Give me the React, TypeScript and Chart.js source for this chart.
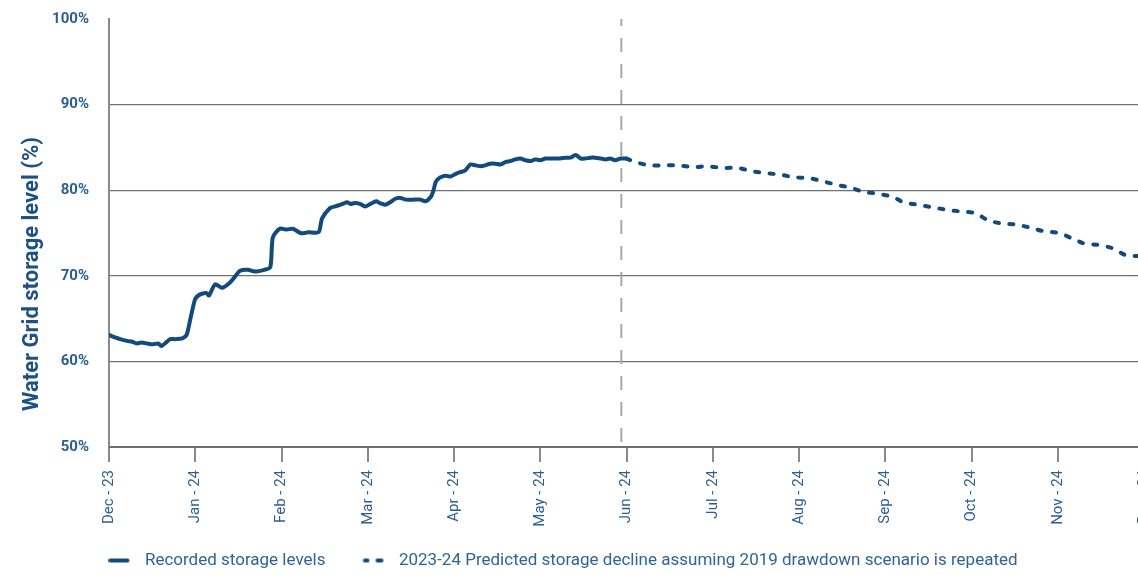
import React, { useEffect, useRef } from "react";
import { Chart, registerables } from "chart.js";

Chart.register(...registerables);

// ---------- data ----------
const monthLabels = [
  "Dec - 23", "Jan - 24", "Feb - 24", "Mar - 24", "Apr - 24", "May - 24",
  "Jun - 24", "Jul - 24", "Aug - 24", "Sep - 24", "Oct - 24", "Nov - 24", "Dec - 24",
];

const yTitle = "Water Grid storage level (%)";
const recordedLabel = "Recorded storage levels";
const predictedLabel = "2023-24 Predicted storage decline assuming 2019 drawdown scenario is repeated";

// months since 1 Dec 2023
const recordedMonth = [
  0.00, 0.07, 0.13, 0.21, 0.27, 0.32, 0.38, 0.44, 0.51, 0.57, 0.61, 0.66, 0.71, 0.77, 0.85, 0.90,
  0.94, 0.98, 1.00, 1.05, 1.13, 1.16, 1.23, 1.31, 1.40, 1.46, 1.52, 1.61, 1.69, 1.80, 1.87, 1.90,
  1.98, 2.06, 2.13, 2.22, 2.27, 2.31, 2.43, 2.47, 2.56, 2.62, 2.71, 2.76, 2.80, 2.85, 2.91, 2.97,
  3.03, 3.10, 3.14, 3.20, 3.26, 3.32, 3.38, 3.44, 3.55, 3.61, 3.67, 3.73, 3.76, 3.79, 3.84, 3.90,
  3.96, 4.02, 4.07, 4.13, 4.19, 4.25, 4.31, 4.36, 4.42, 4.48, 4.54, 4.60, 4.65, 4.71, 4.77, 4.83,
  4.89, 4.94, 5.00, 5.06, 5.12, 5.23, 5.29, 5.35, 5.41, 5.47, 5.52, 5.58, 5.64, 5.70, 5.76, 5.81,
  5.87, 5.93, 6.00,
];
const recordedLevel = [
  63.1, 62.8, 62.6, 62.4, 62.3, 62.1, 62.2, 62.1, 62.0, 62.1, 61.8, 62.2, 62.6, 62.6, 62.7, 63.1,
  64.8, 66.6, 67.3, 67.8, 68.0, 67.7, 69.0, 68.6, 69.2, 69.9, 70.6, 70.7, 70.5, 70.7, 71.0, 74.5,
  75.5, 75.4, 75.5, 75.0, 75.0, 75.1, 75.1, 76.7, 77.9, 78.1, 78.4, 78.6, 78.4, 78.5, 78.4, 78.1,
  78.4, 78.7, 78.5, 78.3, 78.6, 79.0, 79.1, 78.9, 78.9, 78.9, 78.7, 79.2, 79.9, 81.0, 81.5, 81.7,
  81.6, 81.9, 82.1, 82.3, 83.0, 82.9, 82.8, 82.9, 83.1, 83.1, 83.0, 83.3, 83.4, 83.6, 83.7, 83.5,
  83.4, 83.6, 83.5, 83.7, 83.7, 83.7, 83.8, 83.8, 84.1, 83.7, 83.7, 83.8, 83.8, 83.7, 83.6, 83.7,
  83.5, 83.7, 83.7,
];

const predictedMonth = [
  6.00, 6.10, 6.27, 6.43, 6.60, 6.78, 6.94, 7.11, 7.29, 7.46, 7.62, 7.79, 7.95, 8.12, 8.29, 8.45,
  8.60, 8.75, 8.91, 9.09, 9.21, 9.38, 9.55, 9.72, 9.89, 10.05, 10.19, 10.36, 10.51, 10.69, 10.84,
  11.01, 11.16, 11.30, 11.47, 11.64, 11.79, 11.93, 12.00,
];
const predictedLevel = [
  83.7, 83.3, 82.9, 82.9, 82.9, 82.7, 82.8, 82.6, 82.6, 82.2, 82.0, 81.8, 81.5, 81.4, 81.0, 80.6,
  80.3, 79.8, 79.6, 79.2, 78.6, 78.3, 78.0, 77.7, 77.5, 77.3, 76.5, 76.1, 76.0, 75.6, 75.2,
  75.0, 74.4, 73.8, 73.6, 73.2, 72.4, 72.3, 72.3,
];

const forecastStartMonth = 5.94;
const yMin = 50;
const yMax = 100;
const yStep = 10;

// ---------- styles ----------
const LINE = "#124a7c";
const TICK_TEXT = "#2b5f91";
const TITLE_TEXT = "#1d5183";
const LEGEND_TEXT = "#2f6496";
const FONT = "Roboto, 'Noto Sans', sans-serif";
const CANVAS_W = 1170;
const CANVAS_H = 601;
const CANVAS_TOP = -10;
const LEGEND_SHIFT_X = -22;
const LEGEND_SHIFT_Y = -12;
const TITLE_X = 32;
const TITLE_Y = 284;

function makeSample(dashed: boolean): HTMLCanvasElement {
  const c = document.createElement("canvas");
  c.width = 28;
  c.height = 8;
  const g = c.getContext("2d")!;
  g.strokeStyle = LINE;
  g.lineWidth = 4;
  g.lineCap = "round";
  g.beginPath();
  if (dashed) {
    g.moveTo(2.5, 4); g.lineTo(5, 4);
    g.moveTo(15, 4); g.lineTo(19, 4);
  } else {
    g.moveTo(2, 4); g.lineTo(19, 4);
  }
  g.stroke();
  return c;
}

const forecastLinePlugin = {
  id: "forecastLine",
  beforeDatasetsDraw(chart: any) {
    const { ctx, chartArea, scales } = chart;
    const x = scales.x.getPixelForValue(forecastStartMonth);
    ctx.save();
    ctx.strokeStyle = "#a8a8a8";
    ctx.lineWidth = 2;
    ctx.setLineDash([14, 12]);
    ctx.lineDashOffset = 7;
    ctx.beginPath();
    ctx.moveTo(x, chartArea.top);
    ctx.lineTo(x, chartArea.bottom);
    ctx.stroke();
    ctx.restore();
  },
};

const yTitlePlugin = {
  id: "yTitle",
  afterDraw(chart: any) {
    const { ctx } = chart;
    ctx.save();
    ctx.translate(TITLE_X, TITLE_Y);
    ctx.rotate(-Math.PI / 2);
    ctx.font = `bold 22px ${FONT}`;
    ctx.fillStyle = TITLE_TEXT;
    ctx.textAlign = "center";
    ctx.textBaseline = "middle";
    ctx.fillText(yTitle, 0, 0);
    ctx.restore();
  },
};

const legendShiftPlugin = {
  id: "legendShift",
  afterLayout(chart: any) {
    const l = chart.legend;
    if (l) {
      l.left += LEGEND_SHIFT_X;
      l.right += LEGEND_SHIFT_X;
      l.top += LEGEND_SHIFT_Y;
      l.bottom += LEGEND_SHIFT_Y;
    }
  },
};

export default function App() {
  const canvasRef = useRef<HTMLCanvasElement | null>(null);

  useEffect(() => {
    document.body.style.overflow = "hidden";
    const canvas = canvasRef.current!;
    const solidSample = makeSample(false);
    const dashedSample = makeSample(true);

    const chart = new Chart(canvas, {
      type: "line",
      data: {
        datasets: [
          {
            label: recordedLabel,
            data: recordedMonth.map((m, i) => ({ x: m, y: recordedLevel[i] })),
            borderColor: LINE,
            backgroundColor: LINE,
            borderWidth: 4,
            pointRadius: 0,
            tension: 0.25,
            borderJoinStyle: "round",
            borderCapStyle: "round",
          },
          {
            label: predictedLabel,
            data: predictedMonth.map((m, i) => ({ x: m, y: predictedLevel[i] })),
            borderColor: LINE,
            backgroundColor: LINE,
            borderWidth: 4,
            borderDash: [4, 10.5],
            borderCapStyle: "round",
            pointRadius: 0,
            tension: 0.3,
          },
        ],
      },
      options: {
        responsive: false,
        animation: false,
        layout: { padding: { top: 0, left: 0, right: 0, bottom: 0 } },
        plugins: {
          tooltip: { enabled: false },
          legend: {
            position: "bottom",
            labels: {
              usePointStyle: true,
              pointStyleWidth: 28,
              padding: 37,
              color: LEGEND_TEXT,
              font: { size: 17, family: FONT },
              generateLabels: () => [
                { text: recordedLabel, pointStyle: solidSample, fontColor: LEGEND_TEXT, lineWidth: 0, strokeStyle: LINE, fillStyle: LINE, datasetIndex: 0, hidden: false },
                { text: predictedLabel, pointStyle: dashedSample, fontColor: LEGEND_TEXT, lineWidth: 0, strokeStyle: LINE, fillStyle: LINE, datasetIndex: 1, hidden: false },
              ] as any,
            },
          },
        },
        scales: {
          x: {
            type: "linear",
            min: 0,
            max: monthLabels.length - 1,
            afterFit: (s: any) => { s.height = 80; },
            ticks: {
              stepSize: 1,
              autoSkip: false,
              maxRotation: 90,
              minRotation: 90,
              padding: 8,
              color: TICK_TEXT,
              font: { size: 15, family: FONT },
              callback: (v: any) => monthLabels[Math.round(Number(v))] ?? "",
            },
            grid: {
              drawOnChartArea: false,
              drawTicks: true,
              tickLength: 15,
              color: "#8a8a8a",
              lineWidth: 2,
            },
            border: { display: true, color: "#6e6e6e", width: 2 },
          },
          y: {
            min: yMin,
            max: yMax,
            afterFit: (s: any) => { s.width = 109; },
            ticks: {
              stepSize: yStep,
              padding: 20,
              color: TICK_TEXT,
              font: { size: 15, weight: "bold", family: FONT },
              callback: (v: any) => `${v}%`,
            },
            grid: {
              drawTicks: false,
              color: (c: any) => (c.tick && c.tick.value === yMax ? "rgba(0,0,0,0)" : "#707070"),
              lineWidth: 1.3,
            },
            border: { display: true, color: "#8a8a8a", width: 2 },
          },
        },
      },
      plugins: [forecastLinePlugin, yTitlePlugin, legendShiftPlugin],
    } as any);

    return () => chart.destroy();
  }, []);

  return (
    <div style={{ position: "fixed", left: 0, top: CANVAS_TOP, width: CANVAS_W, height: CANVAS_H, background: "#fff" }}>
      <canvas ref={canvasRef} width={CANVAS_W} height={CANVAS_H} style={{ display: "block" }} />
    </div>
  );
}
